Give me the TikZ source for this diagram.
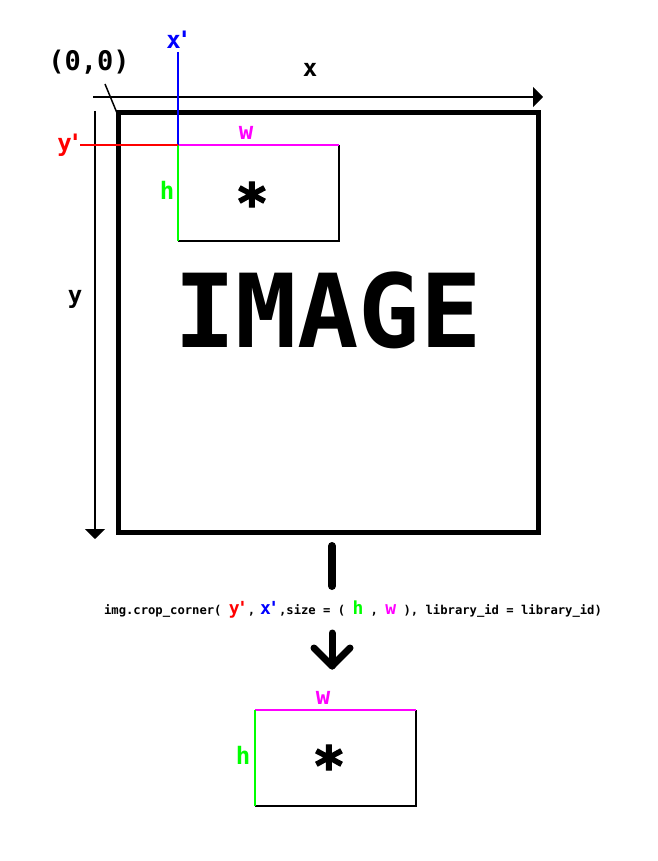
\documentclass[tikz,border=0pt]{standalone}
\usepackage{fontspec}
\setmonofont{DejaVu Sans Mono}
\newfontfamily\starfont{DejaVu Sans Mono Bold}[FakeBold=2.5]
\usetikzlibrary{arrows.meta}
\definecolor{cblue}{RGB}{0,0,255}
\definecolor{cred}{RGB}{255,0,0}
\definecolor{cmag}{RGB}{255,0,255}
\definecolor{cgreen}{RGB}{0,255,0}
\newcommand{\fs}[1]{\fontsize{#1}{#1}\selectfont}
\newcommand{\prm}{\kern-0.15em'}
\begin{document}
\begin{tikzpicture}[x=1pt,y=-1pt,
  every node/.style={font=\ttfamily\bfseries, inner sep=0pt},
  lbl/.style={font=\ttfamily\bfseries\fs{24}},
  star/.style={font=\starfont\fs{54}},
  axis/.style={line width=1.8pt, -{Triangle[length=10pt,width=20pt]}},
  thick arrow/.style={line width=7pt, line cap=round, line join=round}]
\useasboundingbox (0,0) rectangle (657,861);
% big image frame
\draw[line width=5pt] (118,113) rectangle (538,532);
\node[font=\ttfamily\bfseries\fs{102}] (img) at (328,310) {IMAGE};
% axes
\coordinate (o) at (93,97);
\coordinate (xe) at (543,97);
\coordinate (ys) at (95,111);
\coordinate (ye) at (95,539);
\draw[axis] (o) -- (xe);
\draw[axis] (ys) -- (ye);
\node[lbl] (xl) at (310,70) {x};
\node[lbl] (yl) at (75,299) {y};
\node[lbl, font=\ttfamily\bfseries\fs{27}] (orig) at (89,62) {(0,0)};
\coordinate (c0) at (117,113);
\draw[line width=1.5pt] (105,84) -- (c0);
% crop box
\coordinate (tl) at (178,145);
\coordinate (tr) at (339,145);
\coordinate (bl) at (178,241);
\coordinate (br) at (339,241);
\draw[line width=1.5pt] (tr) -- (br) -- (bl);
\draw[line width=1.5pt, cmag] (tl) -- (tr);
\draw[line width=1.5pt, cgreen] (tl) -- (bl);
\coordinate (xp) at (178,52);
\coordinate (yp) at (80,145);
\draw[line width=1.5pt, cblue] (xp) -- (tl);
\draw[line width=1.5pt, cred] (yp) -- (tl);
\node[lbl, text=cblue] (xpl) at (179,40) {x\prm};
\node[lbl, text=cred] (ypl) at (70,145) {y\prm};
\node[lbl, text=cmag] (wl) at (246,133) {w};
\node[lbl, text=cgreen] (hl) at (167,190) {h};
\node[star] (star1) at (252,202) {*};
% arrow parts
\coordinate (a1) at (332,546);
\coordinate (a2) at (332,586);
\draw[line width=8pt, line cap=round] (a1) -- (a2);
\node (call) at (353,610) {\fs{12.2}img.crop\_corner( {\fs{18}\color{cred}y\prm},\kern0.4em{\fs{18}\color{cblue}x\prm},size = ( {\fs{18}\color{cgreen}h} , {\fs{18}\color{cmag}w} ), library\_id = library\_id)};
\coordinate (b1) at (332,633);
\coordinate (b2) at (332,666);
\coordinate (bL) at (314,648);
\coordinate (bR) at (350,648);
\draw[thick arrow] (b1) -- (b2);
\draw[thick arrow] (bL) -- (b2) -- (bR);
% result box
\coordinate (rtl) at (255,710);
\coordinate (rtr) at (416,710);
\coordinate (rbl) at (255,806);
\coordinate (rbr) at (416,806);
\draw[line width=1.5pt] (rtr) -- (rbr) -- (rbl);
\draw[line width=1.5pt, cmag] (rtl) -- (rtr);
\draw[line width=1.5pt, cgreen] (rtl) -- (rbl);
\node[lbl, text=cmag] (wl2) at (323,698) {w};
\node[lbl, text=cgreen] (hl2) at (243,755) {h};
\node[star] (star2) at (329,765) {*};
\end{tikzpicture}
\end{document}
